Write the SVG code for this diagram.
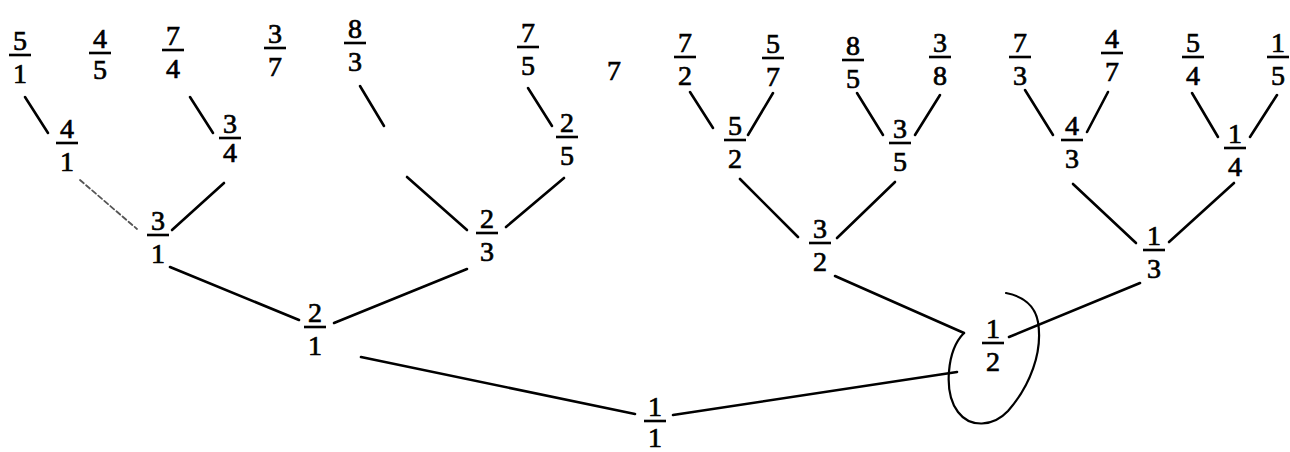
<svg xmlns="http://www.w3.org/2000/svg" width="1290" height="452" viewBox="0 0 1290 452">
  <style>
    .bar { stroke: #000; stroke-width: 2.6; }
    .edge { stroke: #000; stroke-width: 2.6; stroke-linecap: round; fill: none; }
    .faint { stroke: #555; stroke-width: 1.8; stroke-dasharray: 5 3; }
    .ring { stroke: #000; stroke-width: 2.2; fill: none; stroke-linecap: round; }
  </style>
  <defs>
    <!-- fraction bar, centred on the node origin -->
    <line id="bar" class="bar" x1="-11" y1="0" x2="11" y2="0"/>
  </defs>
  <rect width="1290" height="452" fill="#fff"/>

  <!-- tree branches -->
  <g id="connectors">
    <!-- level 4 -> level 3 -->
    <line class="edge" x1="25" y1="97" x2="48" y2="133"/>
    <line class="edge" x1="190" y1="97" x2="213" y2="133"/>
    <line class="edge" x1="360" y1="86" x2="384" y2="126"/>
    <line class="edge" x1="528" y1="88" x2="552" y2="126"/>
    <line class="edge" x1="690" y1="92" x2="713" y2="128"/>
    <line class="edge" x1="773" y1="93" x2="748" y2="135"/>
    <line class="edge" x1="857" y1="93" x2="883" y2="135"/>
    <line class="edge" x1="940" y1="95" x2="915" y2="135"/>
    <line class="edge" x1="1025" y1="90" x2="1053" y2="135"/>
    <line class="edge" x1="1108" y1="92" x2="1087" y2="132"/>
    <line class="edge" x1="1192" y1="93" x2="1218" y2="137"/>
    <line class="edge" x1="1277" y1="95" x2="1250" y2="137"/>
    <!-- level 3 -> level 2 -->
    <line class="edge faint" x1="80" y1="180" x2="137" y2="229"/>
    <line class="edge" x1="224" y1="183" x2="172" y2="230"/>
    <line class="edge" x1="407" y1="177" x2="467" y2="230"/>
    <line class="edge" x1="564" y1="178" x2="506" y2="227"/>
    <line class="edge" x1="740" y1="179" x2="798" y2="237"/>
    <line class="edge" x1="895" y1="182" x2="837" y2="238"/>
    <line class="edge" x1="1073" y1="184" x2="1136" y2="243"/>
    <line class="edge" x1="1234" y1="183" x2="1169" y2="242"/>
    <!-- level 2 -> level 1 -->
    <line class="edge" x1="170" y1="267" x2="299" y2="320"/>
    <line class="edge" x1="467" y1="269" x2="334" y2="323"/>
    <line class="edge" x1="835" y1="276" x2="964" y2="333"/>
    <line class="edge" x1="1140" y1="283" x2="1009" y2="337"/>
    <!-- level 1 -> root -->
    <line class="edge" x1="361" y1="357" x2="635" y2="414"/>
    <line class="edge" x1="673" y1="415" x2="957" y2="372"/>
    <!-- hand-drawn loop round 1/2 -->
    <path class="ring" d="M964,333 C947,350 943,392 958,412 C970,428 993,427 1008,411 C1030,386 1043,352 1038,322 C1035,305 1022,296 1006,293"/>
  </g>

  <!-- fraction labels: numerator, bar, denominator -->
  <g font-family="Liberation Serif, Times New Roman, serif" font-size="28" fill="#000" stroke="#000" stroke-width="0.7" text-anchor="middle">
  <!-- level 4 -->
  <g id="n5_1" transform="translate(20,55)"><text y="-5">5</text><use href="#bar"/><text y="28">1</text></g>
  <g id="n4_5" transform="translate(100,53)"><text y="-5">4</text><use href="#bar"/><text y="26">5</text></g>
  <g id="n7_4" transform="translate(173,50)"><text y="-5">7</text><use href="#bar"/><text y="28">4</text></g>
  <g id="n3_7" transform="translate(275,48)"><text y="-5">3</text><use href="#bar"/><text y="28">7</text></g>
  <g id="n8_3" transform="translate(355,43)"><text y="-5">8</text><use href="#bar"/><text y="28">3</text></g>
  <g id="n7_5" transform="translate(528,47)"><text y="-5">7</text><use href="#bar"/><text y="28">5</text></g>
  <g id="n2_7" transform="translate(614,52)"><text y="28">7</text></g>
  <g id="n7_2" transform="translate(685,57)"><text y="-5">7</text><use href="#bar"/><text y="28">2</text></g>
  <g id="n5_7" transform="translate(773,58)"><text y="-5">5</text><use href="#bar"/><text y="28">7</text></g>
  <g id="n8_5" transform="translate(853,60)"><text y="-5">8</text><use href="#bar"/><text y="28">5</text></g>
  <g id="n3_8" transform="translate(940,57)"><text y="-5">3</text><use href="#bar"/><text y="28">8</text></g>
  <g id="n7_3" transform="translate(1020,57)"><text y="-5">7</text><use href="#bar"/><text y="28">3</text></g>
  <g id="n4_7" transform="translate(1112,53)"><text y="-5">4</text><use href="#bar"/><text y="28">7</text></g>
  <g id="n5_4" transform="translate(1193,57)"><text y="-5">5</text><use href="#bar"/><text y="28">4</text></g>
  <g id="n1_5" transform="translate(1278,57)"><text y="-5">1</text><use href="#bar"/><text y="28">5</text></g>

  <!-- level 3 -->
  <g id="n4_1" transform="translate(67,143)"><text y="-5">4</text><use href="#bar"/><text y="28">1</text></g>
  <g id="n3_4" transform="translate(230,138)"><text y="-5">3</text><use href="#bar"/><text y="24">4</text></g>
  <g id="n2_5" transform="translate(567,137)"><text y="-5">2</text><use href="#bar"/><text y="28">5</text></g>
  <g id="n5_2" transform="translate(735,140)"><text y="-5">5</text><use href="#bar"/><text y="28">2</text></g>
  <g id="n3_5" transform="translate(900,143)"><text y="-5">3</text><use href="#bar"/><text y="28">5</text></g>
  <g id="n4_3" transform="translate(1072,140)"><text y="-5">4</text><use href="#bar"/><text y="28">3</text></g>
  <g id="n1_4" transform="translate(1235,148)"><text y="-5">1</text><use href="#bar"/><text y="28">4</text></g>

  <!-- level 2 -->
  <g id="n3_1" transform="translate(158,235)"><text y="-5">3</text><use href="#bar"/><text y="28">1</text></g>
  <g id="n2_3" transform="translate(487,233)"><text y="-5">2</text><use href="#bar"/><text y="28">3</text></g>
  <g id="n3_2" transform="translate(820,243)"><text y="-5">3</text><use href="#bar"/><text y="28">2</text></g>
  <g id="n1_3" transform="translate(1154,250)"><text y="-5">1</text><use href="#bar"/><text y="28">3</text></g>

  <!-- level 1 -->
  <g id="n2_1" transform="translate(315,327)"><text y="-5">2</text><use href="#bar"/><text y="28">1</text></g>
  <g id="n1_2" transform="translate(993,343)"><text y="-5">1</text><use href="#bar"/><text y="28">2</text></g>

  <!-- root -->
  <g id="n1_1" transform="translate(655,421)"><text y="-5">1</text><use href="#bar"/><text y="26">1</text></g>
  </g>
</svg>
